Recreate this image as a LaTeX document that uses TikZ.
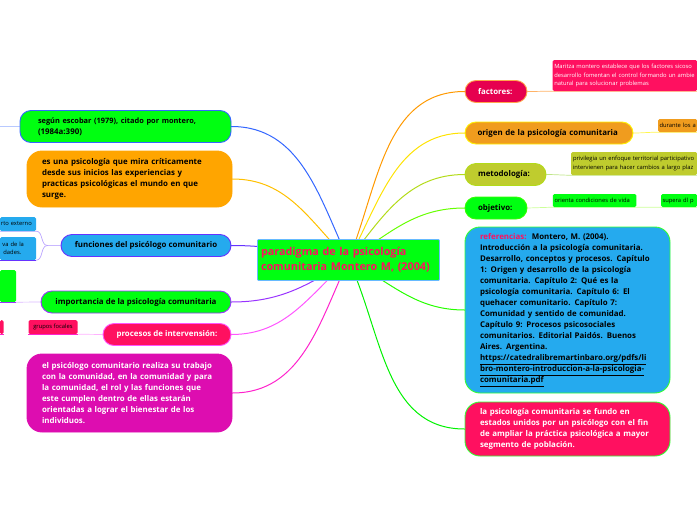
\documentclass[tikz,border=0pt]{standalone}
\usepackage{fontspec}
\setmainfont{Open Sans}
\usetikzlibrary{backgrounds}
\definecolor{verde}{HTML}{00FF11}
\definecolor{rosa}{HTML}{FF1060}
\definecolor{celeste}{HTML}{25AAEE}
\definecolor{naranja}{HTML}{FFA500}
\definecolor{ocre}{HTML}{F09C1E}
\definecolor{oliva}{HTML}{BFCC2E}
\definecolor{fucsia}{HTML}{DD0DB0}
\definecolor{carmin}{HTML}{E6004F}
\definecolor{azul}{HTML}{3366FF}
\definecolor{anil}{HTML}{6633FF}
\definecolor{morado}{HTML}{9933FF}
\definecolor{lila}{HTML}{FF55FF}
\definecolor{magen}{HTML}{FF22CC}
\newcommand{\linea}[1]{\makebox[\linewidth][l]{#1}}
\tikzset{
	rama/.style={rounded corners=11pt,line width=.9pt,inner xsep=0pt,inner ysep=0pt,align=left,font=\fontsize{7.9}{11}\selectfont\bfseries},
	bloque/.style={rama,rounded corners=15pt},
	hoja/.style={rounded corners=1.5pt,inner xsep=0pt,inner ysep=0pt,align=left,font=\fontsize{5.8}{8.5}\selectfont},
	enlace/.style={line width=1pt,line cap=round},
	fino/.style={line width=.7pt,line cap=round}
}
\begin{document}
\begin{tikzpicture}[x=1pt,y=-1pt,>=stealth,line join=round]
	\useasboundingbox (0,0) rectangle (697,520);
	% centro
	\node[draw=blue!45!cyan!60,line width=.8pt,fill=verde,rounded corners=1pt,minimum width=182pt,minimum height=41pt,text width=175pt,align=left,inner sep=0pt,text=rosa,font=\fontsize{10.8}{15}\selectfont\bfseries] (paradigma) at (348.5,260) {paradigma de la psicología\\comunitaria Montero M, (2004)};
	% ramas derecha
	\node[rama,draw=orange!70,fill=carmin,text=white,minimum width=62pt,minimum height=22pt,text width=36pt] (factores) at (496,91.5) {\linea{factores:}};
	\node[rama,draw=yellow,fill=ocre,minimum width=168pt,minimum height=22pt,text width=143pt] (origen) at (549,133) {\linea{origen de la psicología comunitaria}};
	\node[rama,draw=yellow!70!green,fill=oliva,minimum width=81pt,minimum height=22pt,text width=55pt] (metodologia) at (505.5,174.5) {\linea{metodología:}};
	\node[rama,draw=green!80!yellow,fill=verde,minimum width=62pt,minimum height=22pt,text width=36pt] (objetivo) at (496,208) {\linea{objetivo:}};
	\node[bloque,draw=green!80,fill=celeste,minimum width=205pt,minimum height=166pt,text width=175pt] (referencias) at (567.5,310) {\textcolor{rosa}{referencias:}\ \ Montero, M. (2004).\\Introducción a la psicología comunitaria.\\Desarrollo, conceptos y procesos. Capítulo\\1: Origen y desarrollo de la psicología\\comunitaria. Capítulo 2: Qué es la\\psicología comunitaria. Capítulo 6: El\\quehacer comunitario. Capítulo 7:\\Comunidad y sentido de comunidad.\\Capítulo 9: Procesos psicosociales\\comunitarios. Editorial Paidós. Buenos\\Aires. Argentina.\\\underline{https://catedralibremartinbaro.org/pdfs/li}\\\underline{bro-montero-introduccion-a-la-psicologia-}\\\underline{comunitaria.pdf}};
	\node[bloque,draw=green!80,fill=rosa,text=white,minimum width=205pt,minimum height=54pt,text width=175pt] (poblacion) at (567.5,429) {la psicología comunitaria se fundo en\\estados unidos por un psicólogo con el fin\\de ampliar la práctica psicológica a mayor\\segmento de población.};
	% hojas derecha
	\node[hoja,fill=rosa,text=white,minimum width=144.5pt,minimum height=31pt,text width=141pt] (maritza) at (624.75,75.5) {\linea{Maritza montero establece que los factores sicoso}\\\linea{desarrollo fomentan el control formando un ambie}\\\linea{natural para solucionar problemas}};
	\node[hoja,fill=ocre,minimum width=39pt,minimum height=13pt,text width=36pt] (durante) at (677.5,125.5) {\linea{durante los a}};
	\node[hoja,fill=oliva,minimum width=126pt,minimum height=23pt,text width=122pt] (privilegia) at (634,163.5) {\linea{privilegia un enfoque territorial participativo}\\\linea{intervienen para hacer cambios a largo plaz}};
	\node[hoja,fill=verde,minimum width=83.5pt,minimum height=13pt,text width=80pt] (orienta) at (594.5,200.5) {\linea{orienta condiciones de vida}};
	\node[hoja,fill=verde,minimum width=36pt,minimum height=13pt,text width=33pt] (supera) at (679,200.5) {\linea{supera dl p}};
	% ramas izquierda
	\node[rama,draw=azul,fill=verde,minimum width=211pt,minimum height=32pt,text width=175pt] (segun) at (125.5,126.5) {{\fontsize{7.4}{11}\selectfont según escobar (1979), citado por montero,}\\(1984a:390)};
	\node[bloque,draw=naranja,fill=naranja,minimum width=205pt,minimum height=56pt,text width=175pt] (mirada) at (129.5,179) {es una psicología que mira críticamente\\desde sus inicios las experiencias y\\practicas psicológicas el mundo en que\\surge.};
	\node[rama,draw=anil,fill=celeste,minimum width=170pt,minimum height=22pt,align=center] (funciones) at (146,245.5) {funciones del psicólogo comunitario};
	\node[rama,draw=morado,fill=verde,minimum width=190pt,minimum height=22pt,align=center] (importancia) at (136,302) {importancia de la psicología comunitaria};
	\node[rama,draw=lila,fill=rosa,text=white,minimum width=128pt,minimum height=22pt,align=center] (procesos) at (167,334.5) {procesos de intervensión:};
	\node[bloque,draw=fucsia,fill=fucsia,text=white,minimum width=205pt,minimum height=78pt,text width=175pt] (psicologo) at (129.5,393) {el psicólogo comunitario realiza su trabajo\\con la comunidad, en la comunidad y para\\la comunidad, el rol y las funciones que\\este cumplen dentro de ellas estarán\\orientadas a lograr el bienestar de los\\individuos.};
	% hojas izquierda
	\node[hoja,fill=celeste,minimum width=36pt,minimum height=14pt,text width=34pt] (externo) at (18,224) {\linea{rto externo}};
	\node[hoja,fill=celeste,minimum width=36pt,minimum height=23pt,text width=33pt] (dades) at (18,248.5) {\,va de la\\\,\,dades.};
	\node[hoja,fill=verde,minimum width=16pt,minimum height=32pt] (cuadro) at (8,286) {};
	\node[hoja,fill=rosa,minimum width=3.5pt,minimum height=14pt] (roja) at (1.75,327) {};
	\node[hoja,fill=rosa,minimum width=49pt,minimum height=14pt,align=center] (grupos) at (53,327) {grupos focales};
	% conectores
	\begin{scope}[on background layer]
		\draw[enlace,azul] (paradigma.center) to[out=115,in=0] (segun.east);
		\draw[enlace,naranja!70!yellow] (paradigma.center) to[out=135,in=0] (mirada.east);
		\draw[enlace,anil] (paradigma.center) to[out=172,in=0] (funciones.east);
		\draw[enlace,morado] (paradigma.center) to[out=212,in=0] (importancia.east);
		\draw[enlace,lila] (paradigma.center) to[out=222,in=0] (procesos.east);
		\draw[enlace,magen] (paradigma.center) to[out=245,in=0] (psicologo.east);
		\draw[enlace,orange!80!yellow] (paradigma.center) to[out=68,in=180] (factores.west);
		\draw[enlace,yellow!85!orange] (paradigma.center) to[out=62,in=180] (origen.west);
		\draw[enlace,yellow!70!green] (paradigma.center) to[out=52,in=180] (metodologia.west);
		\draw[enlace,green!60!yellow] (paradigma.center) to[out=33,in=180] (objetivo.west);
		\draw[enlace,green!85!yellow] (paradigma.center) to[out=-28,in=180] (referencias.west);
		\draw[enlace,green!95!black] (paradigma.center) to[out=-65,in=180] (poblacion.west);
		\draw[fino,azul!35] (segun.west) -- ++(-20,0);
		\draw[fino,orange!60] (factores.east) to[out=0,in=180] (maritza.south west) -- (maritza.south east);
		\draw[fino,yellow!70] (origen.east) to[out=0,in=180] (durante.south west) -- (durante.south east);
		\draw[fino,yellow!50!green!50] (metodologia.east) to[out=0,in=180] (privilegia.south west) -- (privilegia.south east);
		\draw[fino,green!50!yellow!40] (objetivo.east) -- (orienta.south west) -- (orienta.south east) -- (supera.south west) -- (supera.south east);
		\draw[fino,anil!35] (funciones.west) -- ++(-13,0) coordinate (cruce);
		\draw[fino,anil!45] (cruce) to[out=180,in=0] (externo.south east) -- (externo.south west);
		\draw[fino,anil!45] (cruce) to[out=180,in=0] (dades.south east);
		\draw[fino,morado!35] (importancia.west) -- (cuadro.south east);
		\draw[fino,lila!45] (procesos.west) -- (grupos.south east);
	\end{scope}
	\draw[line width=.9pt,anil] (dades.south east) -- (dades.south west);
	\draw[line width=.9pt,morado] (cuadro.south east) -- (cuadro.south west);
	\draw[line width=.9pt,magen] (grupos.south east) -- (grupos.south west);
	\draw[line width=.9pt,magen] (roja.south east) -- (roja.south west);
\end{tikzpicture}
\end{document}
